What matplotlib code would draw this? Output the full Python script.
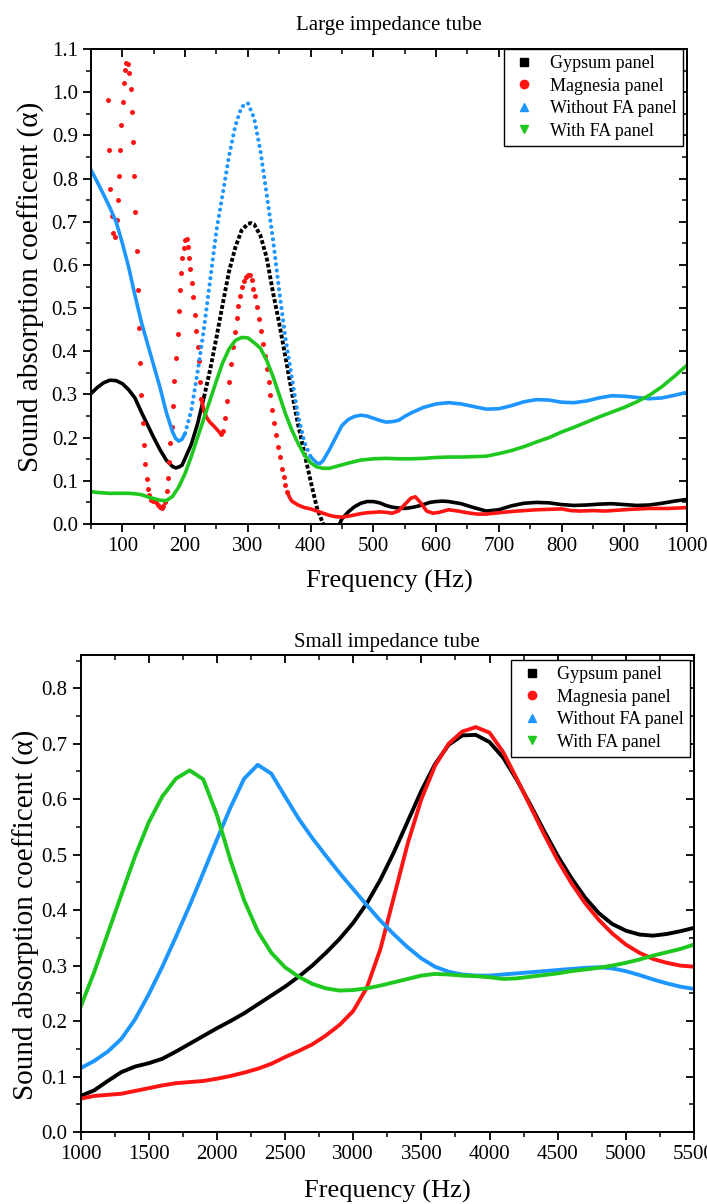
import matplotlib
matplotlib.use("Agg")
import matplotlib.pyplot as plt
from matplotlib.lines import Line2D
from matplotlib.ticker import MultipleLocator, FormatStrFormatter

plt.rcParams['font.family'] = ['Liberation Serif', 'DejaVu Serif']

# ---- Large impedance tube ----
gyp_f = [50, 60, 70, 80, 90, 100, 110, 120, 130, 140, 150, 160, 170, 180, 185, 190, 195,
         200, 210, 220, 230, 240, 250, 260, 270, 280, 290, 300, 305, 310, 320, 330, 340,
         350, 360, 370, 380, 390, 400, 410, 420, 430, 440, 450, 460, 470, 480, 490, 500,
         510, 520, 530, 540, 550, 560, 570, 580, 590, 600, 610, 620, 640, 660, 680, 700,
         720, 740, 760, 780, 800, 820, 840, 860, 880, 900, 920, 940, 960, 980, 1000]
gyp_a = [0.302, 0.316, 0.327, 0.333, 0.332, 0.325, 0.311, 0.292, 0.260, 0.230, 0.200,
         0.172, 0.148, 0.133, 0.130, 0.132, 0.136,
         0.152, 0.185, 0.233, 0.293, 0.358, 0.432, 0.510, 0.585, 0.640, 0.680, 0.695,
         0.697, 0.694, 0.668, 0.617, 0.537, 0.465, 0.386, 0.306, 0.231, 0.165, 0.100,
         0.038, 0.000, -0.030, -0.020, 0.012, 0.028, 0.040, 0.048, 0.052, 0.052,
         0.049, 0.043, 0.039, 0.037, 0.036, 0.038, 0.041, 0.045, 0.050, 0.052, 0.053,
         0.052, 0.047, 0.038, 0.030, 0.033, 0.042, 0.048, 0.050, 0.049, 0.045, 0.043,
         0.044, 0.046, 0.047, 0.045, 0.043, 0.044, 0.048, 0.053, 0.057]

mag_f = [76.4, 79, 81, 82.8, 85.4, 87.5, 90.7, 92.8, 95, 96.5, 98, 100.3, 101.9, 104, 106,
         108.8, 110.8, 113, 114.6, 116.7, 118.3, 120.4, 122.6, 124.2, 125.8, 128.4, 130,
         132.2, 134.3, 136.4, 138.6, 140.7, 142.7, 145.5, 149, 153, 157, 160, 163.5, 165,
         167.8, 170.5, 172.6, 174.2, 176.2, 178.5, 180.5, 182.6, 185.8, 188, 190, 191.7,
         193.3, 195.4, 197.6, 200.2, 202.4, 204, 206, 208.2, 211, 213, 215.6, 217.7, 220,
         222, 224, 226, 230, 235, 240, 245, 250, 255, 258, 261, 264, 267, 270, 273, 276,
         279, 282, 285, 288, 291, 294, 297, 300, 303, 306, 309, 312, 315, 318, 321, 324,
         327, 330, 333, 336, 339, 342, 345, 348, 351, 354, 357, 360, 363, 366, 370, 380,
         390, 400, 410, 420, 430, 440, 450, 460, 470, 480, 490, 500, 510, 520, 530, 540,
         550, 560, 567, 575, 585, 595, 605, 620, 635, 650, 665, 680, 700, 720, 740, 760,
         780, 800, 815, 830, 850, 870, 890, 910, 940, 970, 1000]
mag_a = [0.981, 0.866, 0.776, 0.714, 0.675, 0.665, 0.705, 0.750, 0.805, 0.865, 0.924,
         0.977, 1.022, 1.052, 1.067, 1.065, 1.044, 1.007, 0.954, 0.885, 0.807, 0.722,
         0.632, 0.541, 0.454, 0.374, 0.299, 0.235, 0.182, 0.138, 0.105, 0.081, 0.067,
         0.055, 0.053, 0.050, 0.045, 0.040, 0.036, 0.042, 0.050, 0.077, 0.106, 0.143,
         0.188, 0.225, 0.274, 0.331, 0.385, 0.441, 0.493, 0.541, 0.582, 0.616, 0.640,
         0.657, 0.659, 0.642, 0.617, 0.591, 0.558, 0.526, 0.485, 0.447, 0.411, 0.377,
         0.330, 0.290, 0.262, 0.245, 0.235, 0.228, 0.220, 0.212, 0.209, 0.215, 0.245,
         0.285, 0.330, 0.370, 0.410, 0.445, 0.478, 0.505, 0.528, 0.548, 0.563, 0.572,
         0.577, 0.576, 0.565, 0.545, 0.527, 0.502, 0.475, 0.447, 0.418, 0.390, 0.360,
         0.330, 0.298, 0.265, 0.235, 0.205, 0.178, 0.155, 0.128, 0.108, 0.090, 0.075,
         0.063, 0.053, 0.044, 0.038, 0.035, 0.030, 0.025, 0.020, 0.017, 0.016, 0.018,
         0.021, 0.024, 0.026, 0.027, 0.028, 0.027, 0.025, 0.030, 0.045, 0.060, 0.063,
         0.050, 0.030, 0.025, 0.027, 0.033, 0.030, 0.026, 0.023, 0.023, 0.026, 0.029,
         0.031, 0.033, 0.034, 0.035, 0.031, 0.030, 0.031, 0.030, 0.032, 0.034, 0.036,
         0.036, 0.038]

wo_f = [50, 60, 70, 80, 90, 100, 110, 120, 130, 140, 150, 160, 170, 180, 185, 190, 195,
        200, 210, 220, 230, 240, 250, 260, 270, 280, 290, 300, 310, 320, 330, 340, 350,
        360, 370, 380, 390, 400, 410, 415, 420, 430, 440, 450, 460, 470, 480, 490, 500,
        510, 520, 530, 540, 550, 560, 580, 600, 620, 640, 660, 680, 700, 720, 740, 760,
        780, 800, 820, 840, 860, 880, 900, 920, 940, 960, 980, 1000]
wo_a = [0.820, 0.792, 0.763, 0.733, 0.700, 0.650, 0.595, 0.530, 0.469, 0.418, 0.367,
        0.316, 0.259, 0.213, 0.198, 0.192, 0.196,
        0.210, 0.264, 0.353, 0.452, 0.566, 0.680, 0.765, 0.852, 0.922, 0.966, 0.975,
        0.940, 0.865, 0.764, 0.660, 0.540, 0.430, 0.340, 0.252, 0.190, 0.156, 0.141,
        0.140, 0.147, 0.172, 0.200, 0.228, 0.242, 0.249, 0.252, 0.250, 0.245, 0.240,
        0.236, 0.237, 0.240, 0.249, 0.257, 0.270, 0.278, 0.281, 0.278, 0.272, 0.266,
        0.267, 0.274, 0.283, 0.288, 0.287, 0.282, 0.281, 0.285, 0.292, 0.297, 0.296,
        0.293, 0.290, 0.292, 0.298, 0.305]

wi_f = [50, 60, 70, 80, 90, 100, 110, 120, 130, 140, 150, 160, 170, 180, 190, 200, 210,
        220, 230, 240, 250, 260, 270, 280, 290, 300, 310, 320, 330, 340, 350, 360, 370,
        380, 390, 400, 410, 420, 430, 440, 450, 460, 480, 500, 520, 540, 560, 580, 600,
        620, 640, 660, 680, 700, 720, 740, 760, 780, 800, 820, 840, 860, 880, 900, 920,
        940, 960, 980, 1000]
wi_a = [0.075, 0.073, 0.072, 0.071, 0.071, 0.071, 0.071, 0.070, 0.068, 0.063, 0.059,
        0.055, 0.054, 0.064, 0.086, 0.117, 0.157, 0.201, 0.245, 0.288, 0.332, 0.374,
        0.405, 0.425, 0.432, 0.431, 0.420, 0.407, 0.379, 0.342, 0.299, 0.255, 0.218,
        0.187, 0.160, 0.142, 0.132, 0.129, 0.129, 0.133, 0.137, 0.141, 0.148, 0.151,
        0.152, 0.151, 0.151, 0.152, 0.154, 0.155, 0.155, 0.156, 0.157, 0.163, 0.170,
        0.179, 0.190, 0.200, 0.213, 0.224, 0.236, 0.248, 0.259, 0.270, 0.283, 0.298,
        0.318, 0.342, 0.368]

# ---- Small impedance tube ----
sm_f = [1000, 1100, 1200, 1300, 1400, 1500, 1600, 1700, 1800, 1900, 2000, 2100, 2200,
        2300, 2400, 2500, 2600, 2700, 2800, 2900, 3000, 3100, 3200, 3300, 3400, 3500,
        3600, 3700, 3800, 3900, 4000, 4100, 4200, 4300, 4400, 4500, 4600, 4700, 4800,
        4900, 5000, 5100, 5200, 5300, 5400, 5500]
sm_gyp = [0.065, 0.075, 0.092, 0.108, 0.118, 0.124, 0.132, 0.145, 0.159, 0.173, 0.187,
          0.200, 0.214, 0.230, 0.246, 0.262, 0.280, 0.300, 0.323, 0.348, 0.377, 0.412,
          0.455, 0.505, 0.560, 0.615, 0.663, 0.698, 0.715, 0.716, 0.703, 0.675, 0.635,
          0.590, 0.543, 0.498, 0.458, 0.423, 0.395, 0.375, 0.363, 0.356, 0.354, 0.357,
          0.362, 0.368]
sm_mag = [0.060, 0.065, 0.067, 0.069, 0.074, 0.079, 0.084, 0.088, 0.090, 0.092, 0.096,
          0.101, 0.107, 0.114, 0.123, 0.135, 0.146, 0.158, 0.174, 0.193, 0.218, 0.260,
          0.330, 0.425, 0.520, 0.600, 0.660, 0.700, 0.722, 0.730, 0.720, 0.685, 0.637,
          0.587, 0.537, 0.490, 0.449, 0.413, 0.383, 0.358, 0.338, 0.323, 0.312, 0.305,
          0.300, 0.298]
sm_wo = [0.115, 0.128, 0.145, 0.168, 0.203, 0.248, 0.298, 0.352, 0.408, 0.467, 0.527,
         0.585, 0.637, 0.662, 0.646, 0.605, 0.565, 0.530, 0.498, 0.467, 0.438, 0.409,
         0.381, 0.356, 0.333, 0.313, 0.298, 0.289, 0.284, 0.282, 0.282, 0.284, 0.286,
         0.288, 0.290, 0.292, 0.294, 0.296, 0.297, 0.295, 0.290, 0.283, 0.275, 0.268,
         0.262, 0.258]
sm_wi = [0.225, 0.288, 0.358, 0.428, 0.497, 0.558, 0.605, 0.637, 0.652, 0.636, 0.572,
         0.490, 0.418, 0.362, 0.323, 0.297, 0.280, 0.267, 0.259, 0.255, 0.256, 0.259,
         0.264, 0.270, 0.276, 0.282, 0.285, 0.284, 0.282, 0.281, 0.279, 0.276, 0.277,
         0.280, 0.283, 0.286, 0.290, 0.293, 0.296, 0.300, 0.305, 0.311, 0.318, 0.324,
         0.330, 0.338]

names = ['Gypsum panel', 'Magnesia panel', 'Without FA panel', 'With FA panel']
colors = ['black', '#ff1414', '#1e96ff', '#1ec81e']
markers = ['s', 'o', '^', 'v']

# how each stretch of the large-tube curves looks: solid, dotted or loose dots
gyp_parts = [(50, 230, 'solid'), (230, 420, 'dots'), (420, 1000, 'solid')]
mag_parts = [(76, 226, 'marks'), (226, 258, 'solid'), (258, 363, 'marks'), (363, 1000, 'solid')]
wo_parts = [(50, 200, 'solid'), (200, 400, 'dots'), (400, 1000, 'solid')]
wi_parts = [(50, 1000, 'solid')]


def part(f, a, lo, hi):
    pts = [(x, y) for x, y in zip(f, a) if lo <= x <= hi]
    return [p[0] for p in pts], [p[1] for p in pts]


fig = plt.figure(figsize=(7.07, 12.04), dpi=100)
ax1 = fig.add_axes([91 / 707, 1 - 524 / 1204, 596 / 707, 475 / 1204])
ax2 = fig.add_axes([80.5 / 707, 1 - 1132 / 1204, 613.5 / 707, 477 / 1204])

top = [(gyp_f, gyp_a, gyp_parts), (mag_f, mag_a, mag_parts),
       (wo_f, wo_a, wo_parts), (wi_f, wi_a, wi_parts)]
for (f, a, parts), c, m in zip(top, colors, markers):
    for lo, hi, kind in parts:
        x, y = part(f, a, lo, hi)
        if kind == 'solid':
            ax1.plot(x, y, color=c, lw=2.6, solid_capstyle='round', solid_joinstyle='round')
        elif kind == 'marks':
            ax1.plot(x, y, ls='none', marker=m, ms=3.6, mew=0, color=c)
        elif m == 's':
            ax1.plot(x, y, color=c, lw=2.8, ls=(0, (1, 0.55)), dash_capstyle='butt')
        else:
            ax1.plot(x, y, color=c, lw=3.0, ls=(0, (0.01, 1.5)), dash_capstyle='round')

for a, c in zip([sm_gyp, sm_mag, sm_wo, sm_wi], colors):
    ax2.plot(sm_f, a, color=c, lw=2.8, solid_capstyle='round', solid_joinstyle='round')


def style(ax, xlim, ylim, xmaj, xmin, title, pad, lpad, legend_anchor):
    ax.set_xlim(*xlim)
    ax.set_ylim(*ylim)
    ax.xaxis.set_major_locator(MultipleLocator(xmaj))
    ax.xaxis.set_minor_locator(MultipleLocator(xmin))
    ax.yaxis.set_major_locator(MultipleLocator(0.1))
    ax.yaxis.set_minor_locator(MultipleLocator(0.05))
    ax.yaxis.set_major_formatter(FormatStrFormatter('%.1f'))
    ax.tick_params(which='major', direction='out', length=6, width=1.3, labelsize=15,
                   top=False, right=False)
    ax.tick_params(which='minor', direction='out', length=3.5, width=1.1,
                   top=False, right=False)
    for s in ax.spines.values():
        s.set_linewidth(1.4)
    for side in ['top', 'right']:
        if side == 'top':
            sec = ax.secondary_xaxis('top')
            sec.xaxis.set_major_locator(MultipleLocator(xmaj))
            sec.xaxis.set_minor_locator(MultipleLocator(xmin))
        else:
            sec = ax.secondary_yaxis('right')
            sec.yaxis.set_major_locator(MultipleLocator(0.1))
            sec.yaxis.set_minor_locator(MultipleLocator(0.05))
        sec.tick_params(which='major', direction='in', length=6, width=1.3,
                        labeltop=False, labelright=False)
        sec.tick_params(which='minor', direction='in', length=3.5, width=1.1)
        sec.spines[side].set_linewidth(1.4)
    ax.set_title(title, fontsize=15, pad=pad)
    ax.set_xlabel('Frequency (Hz)', fontsize=19, labelpad=lpad)
    ax.set_ylabel('Sound absorption coefficent (α)', fontsize=21, labelpad=5)
    handles = [Line2D([], [], ls='none', marker=m, color=c, ms=6) for c, m in zip(colors, markers)]
    leg = ax.legend(handles, names, loc='upper right', bbox_to_anchor=legend_anchor,
                    borderaxespad=0, fontsize=13, frameon=True, fancybox=False,
                    edgecolor='black', framealpha=1, handlelength=1.6,
                    handletextpad=0.6, labelspacing=0.3, borderpad=0.35)
    leg.get_frame().set_linewidth(1.0)


style(ax1, (50, 1000), (0, 1.1), 100, 50, 'Large impedance tube', 14, 10, (0.993, 1.0))
style(ax2, (1000, 5500), (0, 0.86), 500, 250, 'Small impedance tube', 6, 11, (0.9935, 0.9895))
ax2.yaxis.set_label_coords(-0.066, 0.455)

fig.savefig('out.png', dpi=100)
